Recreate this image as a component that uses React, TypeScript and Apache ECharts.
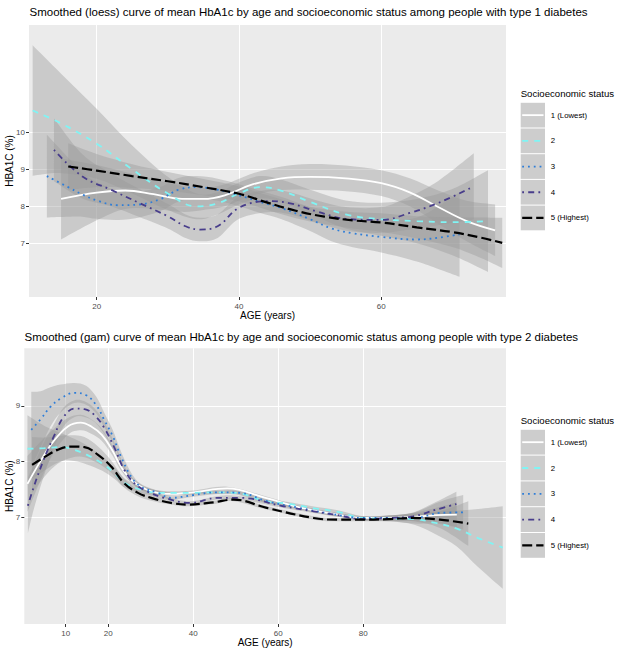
import React, { useEffect, useRef } from "react";
import * as echarts from "echarts";

const FONT = '"Liberation Sans", Arial, Helvetica, sans-serif';

// Legend / group labels
const groupNames = ["1 (Lowest)", "2", "3", "4", "5 (Highest)"];
const groupColors = ["#ffffff", "#80f4f4", "#2f7ed8", "#483d8b", "#000000"];
const groupDash: (number[] | "solid")[] = ["solid", [6, 6], [1.8, 4], [1.8, 4.2, 6, 4.2], [10, 4]];
const groupWidth = [1.8, 1.8, 1.8, 1.8, 2.2];

const title1 = "Smoothed (loess) curve of mean HbA1c by age and socioeconomic status among people with type 1 diabetes";
const title2 = "Smoothed (gam) curve of mean HbA1c by age and socioeconomic status among people with type 2 diabetes";
const xTitle = "AGE (years)";
const yTitle = "HBA1C (%)";
const legendTitle = "Socioeconomic status";

// ---- Type 1 (loess) ----
const t1XTicks = [20, 40, 60];
const t1YTicks = [7, 8, 9, 10];

const t1Age1 = [15, 20, 24, 28, 32, 35, 38, 42, 46, 50, 55, 60, 64, 68, 72, 76];
const t1Mean1 = [8.2, 8.37, 8.43, 8.33, 8.2, 8.2, 8.3, 8.6, 8.76, 8.8, 8.76, 8.63, 8.38, 7.98, 7.6, 7.35];
const t1Ci1 = [1.1, 0.75, 0.5, 0.4, 0.35, 0.3, 0.3, 0.3, 0.32, 0.35, 0.35, 0.35, 0.38, 0.45, 0.55, 0.7];

const t1Age2 = [11, 15, 20, 25, 30, 34, 37, 40, 43, 46, 50, 55, 60, 65, 70, 75];
const t1Mean2 = [10.6, 10.25, 9.7, 9.0, 8.35, 8.0, 8.08, 8.35, 8.52, 8.42, 8.12, 7.78, 7.65, 7.6, 7.57, 7.6];
const t1Ci2 = [1.77, 1.35, 0.95, 0.65, 0.45, 0.35, 0.3, 0.3, 0.3, 0.3, 0.33, 0.38, 0.45, 0.6, 0.9, 1.38];

const t1Age3 = [13, 16, 18, 20, 23, 26, 29, 31.5, 34, 37, 40, 43, 46, 50, 53, 56, 60, 65, 68, 71];
const t1Mean3 = [8.82, 8.52, 8.32, 8.16, 8.03, 8.05, 8.2, 8.45, 8.52, 8.45, 8.3, 8.12, 7.95, 7.65, 7.4, 7.27, 7.17, 7.1, 7.15, 7.24];
const t1Ci3 = [1.12, 0.8, 0.6, 0.5, 0.4, 0.35, 0.33, 0.32, 0.3, 0.3, 0.3, 0.3, 0.3, 0.32, 0.35, 0.38, 0.42, 0.6, 0.85, 1.15];

const t1Age4 = [14, 18, 22, 26, 30, 32.5, 34.5, 37, 40, 44, 47, 51, 55, 60, 64, 68, 73];
const t1Mean4 = [9.53, 8.81, 8.45, 8.09, 7.73, 7.46, 7.37, 7.46, 7.96, 8.14, 8.09, 7.86, 7.66, 7.63, 7.82, 8.09, 8.54];
const t1Ci4 = [0.85, 0.6, 0.45, 0.38, 0.33, 0.32, 0.32, 0.32, 0.3, 0.3, 0.3, 0.3, 0.32, 0.35, 0.45, 0.6, 0.9];

const t1Age5 = [16, 20, 25, 30, 35, 40, 44, 48, 52, 56, 60, 65, 70, 74, 77];
const t1Mean5 = [9.08, 8.97, 8.82, 8.68, 8.52, 8.34, 8.1, 7.88, 7.72, 7.62, 7.56, 7.43, 7.3, 7.15, 7.01];
const t1Ci5 = [0.63, 0.45, 0.32, 0.25, 0.22, 0.2, 0.2, 0.2, 0.2, 0.22, 0.25, 0.3, 0.4, 0.55, 0.68];

// ---- Type 2 (gam) ----
const t2XTicks = [10, 20, 40, 60, 80];
const t2YTicks = [7, 8, 9];

const t2Age1 = [1, 4, 7, 10.5, 13.5, 16, 18.5, 21, 23, 25.5, 29, 34, 40, 48, 57, 65, 74, 80, 90, 97, 102];
const t2Mean1 = [7.6, 8.0, 8.35, 8.63, 8.7, 8.63, 8.48, 8.2, 7.91, 7.67, 7.5, 7.42, 7.45, 7.52, 7.35, 7.18, 7.05, 6.99, 7.0, 7.04, 7.05];
const t2Ci1 = [0.5, 0.35, 0.22, 0.15, 0.14, 0.13, 0.11, 0.09, 0.07, 0.05, 0.04, 0.03, 0.03, 0.03, 0.03, 0.03, 0.03, 0.03, 0.06, 0.13, 0.22];

const t2Age2 = [1, 5, 9, 12, 15, 18.5, 21.5, 24, 28, 32, 35, 40, 45, 50, 57, 62, 68, 74, 80, 86, 92, 97, 102, 107, 112.8];
const t2Mean2 = [8.23, 8.24, 8.26, 8.21, 8.12, 7.97, 7.79, 7.61, 7.49, 7.44, 7.44, 7.44, 7.45, 7.44, 7.29, 7.25, 7.17, 7.1, 6.99, 6.98, 6.97, 6.9, 6.8, 6.63, 6.46];
const t2Ci2 = [0.6, 0.4, 0.25, 0.2, 0.17, 0.13, 0.1, 0.08, 0.06, 0.04, 0.03, 0.03, 0.03, 0.03, 0.03, 0.03, 0.03, 0.03, 0.03, 0.05, 0.1, 0.2, 0.32, 0.52, 0.74];

const t2Age3 = [1.9, 4.1, 6.4, 8.8, 12, 14.8, 17.2, 19.1, 21.1, 23, 25.4, 27.7, 31.7, 34.8, 40, 45.6, 51, 57.3, 65, 72, 80, 86, 92, 98, 103.5];
const t2Mean3 = [8.57, 8.76, 8.98, 9.13, 9.23, 9.19, 9.01, 8.74, 8.45, 8.09, 7.73, 7.55, 7.44, 7.35, 7.4, 7.45, 7.44, 7.29, 7.17, 7.07, 6.99, 6.99, 6.99, 7.08, 7.09];
const t2Ci3 = [0.68, 0.5, 0.35, 0.25, 0.18, 0.17, 0.15, 0.13, 0.11, 0.09, 0.07, 0.05, 0.04, 0.03, 0.03, 0.03, 0.03, 0.03, 0.03, 0.03, 0.03, 0.05, 0.1, 0.2, 0.31];

const t2Age4 = [1.1, 2.5, 4.8, 7.2, 9.5, 12.1, 14.4, 16.8, 19.1, 21.5, 23.8, 26.2, 29.3, 33.2, 39.3, 45.6, 51, 61.2, 68.3, 74, 80, 86, 91.7, 97.2, 101.9];
const t2Mean4 = [7.21, 7.55, 8.03, 8.45, 8.8, 8.95, 8.94, 8.83, 8.6, 8.24, 7.85, 7.61, 7.46, 7.35, 7.26, 7.35, 7.35, 7.2, 7.11, 7.04, 6.97, 6.99, 7.02, 7.14, 7.24];
const t2Ci4 = [0.5, 0.4, 0.3, 0.22, 0.17, 0.15, 0.14, 0.12, 0.11, 0.09, 0.07, 0.05, 0.04, 0.03, 0.03, 0.03, 0.03, 0.03, 0.03, 0.03, 0.03, 0.04, 0.07, 0.14, 0.22];

const t2Age5 = [2.1, 5, 8.1, 11.3, 14.4, 17.6, 20.7, 23.8, 27, 30.1, 34.8, 38.5, 44.8, 49.5, 57.3, 68.3, 73.8, 80, 86, 91.7, 98, 104.7];
const t2Mean5 = [7.94, 8.08, 8.21, 8.27, 8.26, 8.12, 7.91, 7.61, 7.44, 7.35, 7.26, 7.23, 7.27, 7.32, 7.17, 6.99, 6.96, 6.96, 6.97, 6.99, 6.96, 6.89];
const t2Ci5 = [0.5, 0.35, 0.25, 0.2, 0.18, 0.15, 0.11, 0.08, 0.06, 0.05, 0.03, 0.03, 0.03, 0.03, 0.03, 0.03, 0.03, 0.03, 0.04, 0.06, 0.15, 0.4];

type Group = { age: number[]; mean: number[]; ci: number[] };

const panels = [
  {
    title: title1,
    grid: { left: 29, top: 25, width: 477, height: 272 },
    xMin: 10.49, xMax: 77.53, yMin: 5.54, yMax: 12.92,
    xTicks: t1XTicks, yTicks: t1YTicks,
    titleTop: 6, titleLeft: 29.5,
    legendTitleY: 93, keyTop: 102.3, keyH: 25.7,
    groups: [
      { age: t1Age1, mean: t1Mean1, ci: t1Ci1 },
      { age: t1Age2, mean: t1Mean2, ci: t1Ci2 },
      { age: t1Age3, mean: t1Mean3, ci: t1Ci3 },
      { age: t1Age4, mean: t1Mean4, ci: t1Ci4 },
      { age: t1Age5, mean: t1Mean5, ci: t1Ci5 },
    ] as Group[],
  },
  {
    title: title2,
    grid: { left: 24.3, top: 348.3, width: 481.7, height: 275.7 },
    xMin: 0.26, xMax: 113.57, yMin: 5.09, yMax: 10.03,
    xTicks: t2XTicks, yTicks: t2YTicks,
    titleTop: 330.5, titleLeft: 24.5,
    legendTitleY: 420, keyTop: 429.3, keyH: 25.8,
    groups: [
      { age: t2Age1, mean: t2Mean1, ci: t2Ci1 },
      { age: t2Age2, mean: t2Mean2, ci: t2Ci2 },
      { age: t2Age3, mean: t2Mean3, ci: t2Ci3 },
      { age: t2Age4, mean: t2Mean4, ci: t2Ci4 },
      { age: t2Age5, mean: t2Mean5, ci: t2Ci5 },
    ] as Group[],
  },
];

// Catmull-Rom spline through screen points (continuing an existing path)
function splineSegs(pts: number[][]): string {
  let d = "";
  const n = pts.length;
  for (let i = 0; i < n - 1; i++) {
    const p0 = pts[i - 1] || pts[i];
    const p1 = pts[i];
    const p2 = pts[i + 1];
    const p3 = pts[i + 2] || p2;
    const c1x = p1[0] + (p2[0] - p0[0]) / 6;
    const c1y = p1[1] + (p2[1] - p0[1]) / 6;
    const c2x = p2[0] - (p3[0] - p1[0]) / 6;
    const c2y = p2[1] - (p3[1] - p1[1]) / 6;
    d += ` C${c1x},${c1y} ${c2x},${c2y} ${p2[0]},${p2[1]}`;
  }
  return d;
}

function buildOption() {
  const grids: any[] = [];
  const xAxes: any[] = [];
  const yAxes: any[] = [];
  const series: any[] = [];
  const titles: any[] = [];
  const graphics: any[] = [];

  panels.forEach((p, pi) => {
    grids.push({ ...p.grid, containLabel: false, outerBoundsMode: "none", backgroundColor: "#ebebeb", show: true, borderWidth: 0 });
    titles.push({
      text: p.title,
      left: p.titleLeft,
      top: p.titleTop,
      padding: 0,
      textStyle: { fontFamily: FONT, fontSize: 11.5, fontWeight: "normal", color: "#000" },
    });
    const axisCommon = {
      gridIndex: pi,
      type: "value",
      axisLine: { show: false },
      splitLine: { show: true, lineStyle: { color: "#ffffff", width: 1 } },
      nameLocation: "middle",
      nameMoveOverlap: false,
      nameTextStyle: { fontFamily: FONT, fontSize: 10, color: "#000" },
    };
    xAxes.push({
      ...axisCommon,
      min: p.xMin,
      max: p.xMax,
      name: xTitle,
      nameGap: 13,
      axisTick: { show: true, length: 3, lineStyle: { color: "#333333" }, customValues: p.xTicks },
      axisLabel: { customValues: p.xTicks, fontFamily: FONT, fontSize: 8, color: "#4d4d4d", margin: 5 },
    });
    yAxes.push({
      ...axisCommon,
      min: p.yMin,
      max: p.yMax,
      name: yTitle,
      nameGap: pi === 0 ? 15 : 10,
      axisTick: { show: true, length: 3, lineStyle: { color: "#333333" }, customValues: p.yTicks },
      axisLabel: { customValues: p.yTicks, fontFamily: FONT, fontSize: 8, color: "#4d4d4d", margin: 4 },
    });

    p.groups.forEach((g, gi) => {
      const bandData = g.age.map((a, k) => [a, g.mean[k] - g.ci[k], g.mean[k] + g.ci[k]]);
      series.push({
        type: "custom",
        name: groupNames[gi] + " CI",
        xAxisIndex: pi,
        yAxisIndex: pi,
        silent: true,
        clip: true,
        encode: { x: 0, y: [1, 2] },
        data: bandData,
        renderItem: (params: any, api: any) => {
          if (params.dataIndex !== 0) return null;
          const upper = bandData.map((r) => api.coord([r[0], r[2]]));
          const lower = bandData.map((r) => api.coord([r[0], r[1]])).reverse();
          let d = `M${upper[0][0]},${upper[0][1]}` + splineSegs(upper);
          d += ` L${lower[0][0]},${lower[0][1]}` + splineSegs(lower) + " Z";
          return {
            type: "path",
            shape: { pathData: d },
            style: { fill: "rgba(153,153,153,0.4)", stroke: null },
          };
        },
      });
      series.push({
        type: "line",
        name: groupNames[gi],
        xAxisIndex: pi,
        yAxisIndex: pi,
        smooth: 0.4,
        symbol: "none",
        silent: true,
        lineStyle: { color: groupColors[gi], width: groupWidth[gi], type: groupDash[gi], cap: "butt" },
        data: g.age.map((a, k) => [a, g.mean[k]]),
      });
    });

    // legend (ggplot-style keys)
    const lx = 520.7;
    const kw = 24.3;
    graphics.push({
      type: "text",
      x: lx,
      y: p.legendTitleY,
      style: { text: legendTitle, font: `9.6px ${FONT}`, fill: "#000", align: "left", verticalAlign: "middle" },
    });
    groupNames.forEach((nm, gi) => {
      const top = p.keyTop + gi * p.keyH;
      const cy = top + p.keyH / 2;
      graphics.push({
        type: "rect",
        shape: { x: lx, y: top + 0.5, width: kw, height: p.keyH - 1 },
        style: { fill: "#cdcdcd" },
      });
      graphics.push({
        type: "line",
        shape: { x1: lx + 1.5, y1: cy, x2: lx + kw - 1.5, y2: cy },
        style: {
          stroke: groupColors[gi],
          lineWidth: groupWidth[gi],
          lineDash: groupDash[gi] === "solid" ? null : (groupDash[gi] as number[]),
        },
      });
      graphics.push({
        type: "text",
        x: 550.7,
        y: cy,
        style: { text: nm, font: `7.8px ${FONT}`, fill: "#000", align: "left", verticalAlign: "middle" },
      });
    });
  });

  return {
    animation: false,
    backgroundColor: "#ffffff",
    title: titles,
    grid: grids,
    xAxis: xAxes,
    yAxis: yAxes,
    series,
    graphic: graphics,
  };
}

export default function App() {
  const ref = useRef<HTMLDivElement>(null);
  useEffect(() => {
    if (!ref.current) return;
    const chart = echarts.init(ref.current, null, { renderer: "svg" });
    chart.setOption(buildOption() as any);
    return () => chart.dispose();
  }, []);
  return (
    <div
      ref={ref}
      style={{ position: "absolute", left: 0, top: 0, width: 624, height: 655 }}
    />
  );
}
